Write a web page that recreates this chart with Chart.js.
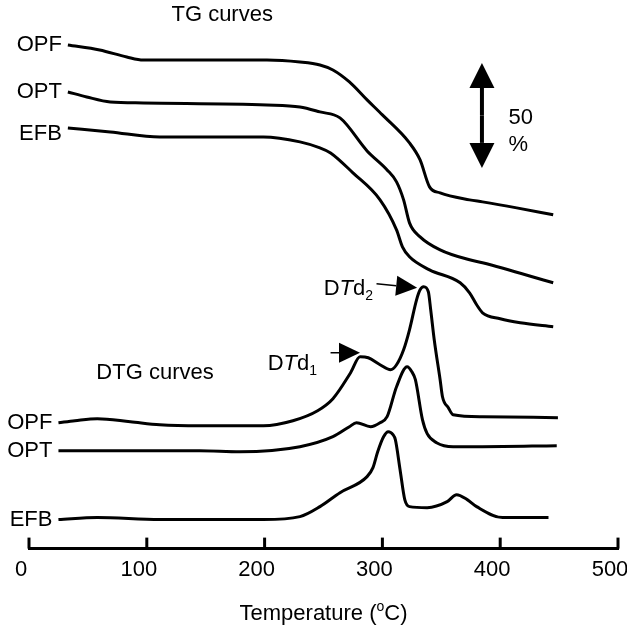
<!DOCTYPE html>
<html>
<head>
<title>TG and DTG curves</title>
<script src="https://cdn.jsdelivr.net/npm/chart.js@4.4.0/dist/chart.umd.min.js"></script>
<style>
  body { margin: 0; background: #fff; }
  #wrap { width: 627px; height: 627px; }
</style>
</head>
<body>
<div id="wrap"><canvas id="chart"></canvas></div>
<script>
// temperature in oC, signal in arbitrary units (curves are stacked one above the other)
var opfTgT = [33, 60, 83, 97, 145, 202, 230, 247, 258, 272, 287, 300, 323, 332, 340, 349, 374, 385, 414, 445];
var opfTgY = [504, 499, 492, 489, 489, 489, 487, 484, 479, 467, 449, 434, 406, 389, 362, 356, 349, 347, 341, 334];

var optTgT = [33, 49, 69, 97, 202, 230, 247, 264, 287, 304, 312, 318, 323, 332, 349, 374, 385, 445];
var optTgY = [457, 452, 447, 446, 444, 442, 437, 431, 398, 379, 367, 349, 326, 312, 299, 289, 286, 266];

var efbTgT = [33, 69, 111, 199, 230, 247, 256, 275, 298, 312, 317, 323, 340, 366, 374, 380, 385, 400, 417, 445];
var efbTgY = [421, 417, 412, 412, 407, 401, 396, 376, 349, 319, 302, 292, 279, 266, 256, 244, 236, 230, 226, 222];

var opfDtgT = [25, 39, 58, 86, 111, 145, 199, 224, 245, 258, 273, 281, 288, 298, 307, 312, 318, 323, 329, 332, 335, 339, 341, 344, 349, 351, 356, 360, 385, 449];
var opfDtgY = [126, 128, 130, 127, 124, 123, 123, 128, 138, 150, 176, 192, 191, 184, 179, 184, 199, 219, 249, 259, 262, 257, 239, 209, 169, 152, 141, 134, 132, 131];

var optDtgT = [25, 60, 145, 179, 230, 258, 272, 278, 290, 298, 304, 312, 321, 325, 328, 334, 338, 346, 360, 385, 448];
var optDtgY = [98, 98, 98, 97, 102, 112, 122, 126, 122, 126, 132, 162, 182, 177, 169, 129, 115, 106, 102, 102, 103];

var efbDtgT = [25, 58, 111, 199, 230, 247, 264, 287, 292, 296, 301, 305, 309, 311, 315, 319, 323, 338, 355, 363, 372, 380, 402, 441];
var efbDtgY = [29, 31, 29, 29, 32, 42, 56, 72, 81, 97, 112, 117, 114, 109, 79, 49, 42, 41, 47, 54, 49, 42, 31, 31];

var xMin = 0, xMax = 500, xStep = 100;

var FONT = '"Liberation Sans", Arial, sans-serif';

function pts(xs, ys) {
  return xs.map(function (x, i) { return { x: x, y: ys[i] }; });
}

function curve(name, xs, ys, dy) {
  return {
    label: name,
    data: pts(xs, ys),
    borderColor: '#000',
    borderWidth: 3,
    pointRadius: 0,
    cubicInterpolationMode: 'monotone',
    fill: false,
    labelDy: dy || 0
  };
}

function arrow(ctx, x1, y1, x2, y2, len, wid) {
  var ang = Math.atan2(y2 - y1, x2 - x1);
  var bx = x2 - len * Math.cos(ang), by = y2 - len * Math.sin(ang);
  ctx.beginPath();
  ctx.moveTo(x1, y1);
  ctx.lineTo(bx, by);
  ctx.stroke();
  ctx.beginPath();
  ctx.moveTo(x2, y2);
  ctx.lineTo(bx + wid / 2 * Math.sin(ang), by - wid / 2 * Math.cos(ang));
  ctx.lineTo(bx - wid / 2 * Math.sin(ang), by + wid / 2 * Math.cos(ang));
  ctx.closePath();
  ctx.fill();
}

// text with parts: [text, style] where style is '', 'i' (italic), 'sub', 'sup'
function richText(ctx, parts, x, y, align) {
  var size = 22, small = 14;
  function fontOf(s) {
    if (s === 'i') return 'italic ' + size + 'px ' + FONT;
    if (s === 'sub' || s === 'sup') return small + 'px ' + FONT;
    return size + 'px ' + FONT;
  }
  var total = 0;
  parts.forEach(function (p) { ctx.font = fontOf(p[1]); total += ctx.measureText(p[0]).width; });
  var cx = align === 'right' ? x - total : (align === 'center' ? x - total / 2 : x);
  ctx.textAlign = 'left';
  ctx.textBaseline = 'alphabetic';
  var base = y + size * 0.36;
  parts.forEach(function (p) {
    ctx.font = fontOf(p[1]);
    var dy = p[1] === 'sub' ? 5 : (p[1] === 'sup' ? -9 : 0);
    ctx.fillText(p[0], cx, base + dy);
    cx += ctx.measureText(p[0]).width;
  });
}

var extras = {
  id: 'extras',
  afterDatasetsDraw: function (chart) {
    var ctx = chart.ctx, xs = chart.scales.x, ys = chart.scales.y, a = chart.chartArea;
    var X = function (v) { return xs.getPixelForValue(v); };
    var Y = function (v) { return ys.getPixelForValue(v); };
    ctx.save();
    ctx.fillStyle = '#000';
    ctx.strokeStyle = '#000';

    // tick marks pointing up into the plot
    ctx.lineWidth = 3;
    xs.ticks.forEach(function (t) {
      var p = X(t.value);
      ctx.beginPath();
      ctx.moveTo(p, a.bottom);
      ctx.lineTo(p, a.bottom - 11);
      ctx.stroke();
    });

    // curve names at the start of each line
    ctx.font = '22px ' + FONT;
    ctx.textAlign = 'right';
    ctx.textBaseline = 'middle';
    chart.data.datasets.forEach(function (ds) {
      var p = ds.data[0];
      ctx.fillText(ds.label, X(p.x) - 6, Y(p.y) + ds.labelDy);
    });

    // group titles
    ctx.textAlign = 'center';
    ctx.fillText('TG curves', X(164), Y(534));
    ctx.fillText('DTG curves', X(107), Y(176));

    // 50 % scale arrow
    ctx.lineWidth = 4;
    var ax = X(384.5), top = Y(486), bot = Y(381), mid = (top + bot) / 2;
    arrow(ctx, ax, mid, ax, top, 25, 25);
    arrow(ctx, ax, mid, ax, bot, 25, 25);
    ctx.textAlign = 'left';
    ctx.fillText('50', X(407), Y(431));
    ctx.fillText('%', X(407), Y(404));

    // peak markers
    ctx.lineWidth = 1.5;
    richText(ctx, [['D', ''], ['T', 'i'], ['d', ''], ['1', 'sub']], X(244.5), Y(187), 'right');
    arrow(ctx, X(256), Y(196), X(281), Y(196), 21, 20);
    richText(ctx, [['D', ''], ['T', 'i'], ['d', ''], ['2', 'sub']], X(292), Y(262), 'right');
    arrow(ctx, X(295), Y(265), X(329.5), Y(261), 21, 20);

    // axis title
    richText(ctx, [['Temperature (', ''], ['o', 'sup'], ['C)', '']], (a.left + a.right) / 2, a.bottom + 63, 'center');
    ctx.restore();
  }
};

new Chart(document.getElementById('chart'), {
  type: 'line',
  data: {
    datasets: [
      curve('OPF', opfTgT, opfTgY),
      curve('OPT', optTgT, optTgY),
      curve('EFB', efbTgT, efbTgY, 6),
      curve('OPF', opfDtgT, opfDtgY),
      curve('OPT', optDtgT, optDtgY),
      curve('EFB', efbDtgT, efbDtgY)
    ]
  },
  options: {
    responsive: true,
    maintainAspectRatio: false,
    animation: false,
    devicePixelRatio: 1,
    layout: { padding: { left: 29, right: 9, top: 9, bottom: 36 } },
    plugins: { legend: { display: false }, tooltip: { enabled: false } },
    scales: {
      x: {
        type: 'linear',
        min: xMin,
        max: xMax,
        grid: { display: true, drawOnChartArea: false, drawTicks: false },
        border: { display: true, color: '#000', width: 3 },
        ticks: {
          stepSize: xStep,
          color: '#000',
          padding: 8,
          labelOffset: -8,
          maxRotation: 0,
          font: { family: FONT, size: 22 }
        },
        afterFit: function (s) { s.paddingLeft = 0; s.paddingRight = 0; }
      },
      y: { type: 'linear', display: false, min: 0, max: 540 }
    }
  },
  plugins: [extras]
});
</script>
</body>
</html>
